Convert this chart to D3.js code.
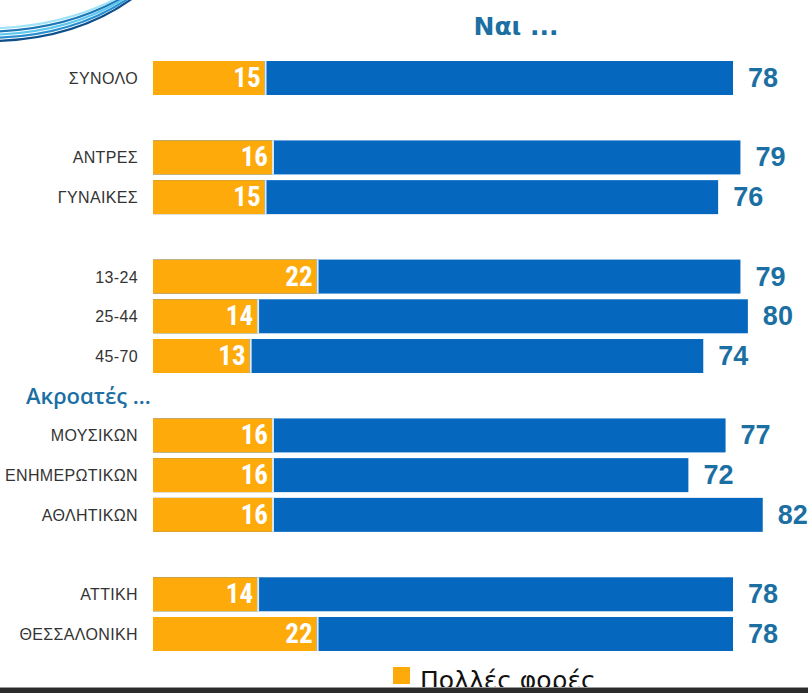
<!DOCTYPE html>
<html>
<head>
<meta charset="utf-8">
<script src="https://cdn.jsdelivr.net/npm/d3@7"></script>
<style>
  html, body { margin: 0; padding: 0; background: #fff; }
  svg { display: block; }
</style>
</head>
<body>
<svg id="chart" width="808" height="693"></svg>
<script>
// Survey answers: share saying "Ναι" and, within it, "Πολλές φορές"
const categories = ["ΣΥΝΟΛΟ", "ΑΝΤΡΕΣ", "ΓΥΝΑΙΚΕΣ", "13-24", "25-44", "45-70",
  "ΜΟΥΣΙΚΩΝ", "ΕΝΗΜΕΡΩΤΙΚΩΝ", "ΑΘΛΗΤΙΚΩΝ", "ΑΤΤΙΚΗ", "ΘΕΣΣΑΛΟΝΙΚΗ"];
const yesValues   = [78, 79, 76, 79, 80, 74, 77, 72, 82, 78, 78];
const oftenValues = [15, 16, 15, 22, 14, 13, 16, 16, 16, 14, 22];
const groupSizes  = [1, 2, 3, 3, 2];
const groupHeaders = ["", "", "", "Ακροατές ...", ""];
const titleText = "Ναι ...";
const legendText = "Πολλές φορές";

const svg = d3.select("#chart");
const ORANGE = "#FDAA0A", BLUE = "#0567BE", TEXTBLUE = "#1C6FA3";

// decorative arcs in the top-left corner
const arcColors = ["#0d4f8a", "#2a8fd0", "#5cc8ee", "#1d78b8", "#9fe3f6"];
const arcs = svg.append("g").attr("fill", "none");
arcColors.forEach((c, i) => {
  const o = i * 3.2;
  arcs.append("path")
    .attr("d", `M-2,${41 - o} Q${78 - o},${38 - o} ${133 - o * 1.2},-2`)
    .attr("stroke", c).attr("stroke-width", 2.2);
});

// lay out rows: gaps between groups, header rows take a slot
const rows = [];
let slot = 0, idx = 0;
const headerSlots = [];
groupSizes.forEach((n, g) => {
  if (g > 0) {
    if (groupHeaders[g]) headerSlots.push({ text: groupHeaders[g], slot: slot });
    slot += 1;
  }
  for (let k = 0; k < n; k++) rows.push({ i: idx++, slot: slot++ });
});

const y = d3.scaleLinear().domain([0, 14]).range([78, 634]);
const x = d3.scaleLinear().domain([0, 78]).range([153, 733]);
const barH = 34;

const data = rows.map(r => ({
  cat: categories[r.i], yes: yesValues[r.i], often: oftenValues[r.i], slot: r.slot
}));

const g = svg.append("g");
const row = g.selectAll("g.row").data(data).join("g").attr("class", "row");

// "Ναι" bar
row.append("rect")
  .attr("x", x(0)).attr("y", d => y(d.slot) - barH / 2)
  .attr("width", d => x(d.yes) - x(0)).attr("height", barH)
  .attr("fill", BLUE);

// "Πολλές φορές" part
row.append("rect")
  .attr("x", x(0)).attr("y", d => y(d.slot) - barH / 2)
  .attr("width", d => x(d.often) - x(0)).attr("height", barH)
  .attr("fill", ORANGE);
row.append("rect")
  .attr("x", d => x(d.often)).attr("y", d => y(d.slot) - barH / 2)
  .attr("width", 2).attr("height", barH)
  .attr("fill", "#fff").attr("opacity", 0.85);

row.append("text")
  .attr("x", d => x(d.often) - 4).attr("y", d => y(d.slot) + 9)
  .attr("text-anchor", "end")
  .attr("font-family", "'Liberation Sans Narrow', 'Roboto Condensed', 'Liberation Sans', sans-serif")
  .attr("font-weight", "bold").attr("font-size", 27)
  .attr("fill", "#fff")
  .text(d => d.often);

row.append("text")
  .attr("x", d => x(d.yes) + 15).attr("y", d => y(d.slot) + 9)
  .attr("font-family", "'Liberation Sans Narrow', 'Liberation Sans', sans-serif")
  .attr("font-weight", "bold").attr("font-size", 27)
  .attr("fill", TEXTBLUE)
  .text(d => d.yes);

row.append("text")
  .attr("x", 138).attr("y", d => y(d.slot) + 6)
  .attr("text-anchor", "end")
  .attr("font-family", "'Liberation Sans Narrow', 'Liberation Sans', sans-serif")
  .attr("font-size", 16).attr("letter-spacing", 0.35)
  .attr("fill", "#333")
  .text(d => d.cat);

// group header
svg.selectAll("text.header").data(headerSlots).join("text")
  .attr("class", "header")
  .attr("x", 26).attr("y", d => y(d.slot) + 8)
  .attr("font-family", "'Open Sans', sans-serif")
  .attr("font-weight", 600).attr("font-size", 22)
  .attr("fill", TEXTBLUE)
  .text(d => d.text);

// title
svg.append("text")
  .attr("x", 516).attr("y", 35)
  .attr("text-anchor", "middle")
  .attr("font-family", "'DejaVu Sans', sans-serif")
  .attr("font-weight", "bold").attr("font-size", 25)
  .attr("fill", TEXTBLUE)
  .text(titleText);

// legend
svg.append("rect").attr("x", 393).attr("y", 667).attr("width", 17).attr("height", 17).attr("fill", ORANGE);
svg.append("text")
  .attr("x", 420).attr("y", 689)
  .attr("font-family", "'DejaVu Sans', sans-serif")
  .attr("font-size", 25).attr("fill", "#111")
  .text(legendText);

// bottom frame edge
svg.append("rect").attr("x", 0).attr("y", 687).attr("width", 808).attr("height", 1).attr("fill", "#999");
svg.append("rect").attr("x", 0).attr("y", 688).attr("width", 808).attr("height", 5).attr("fill", "#2b2b2b");
</script>
</body>
</html>
